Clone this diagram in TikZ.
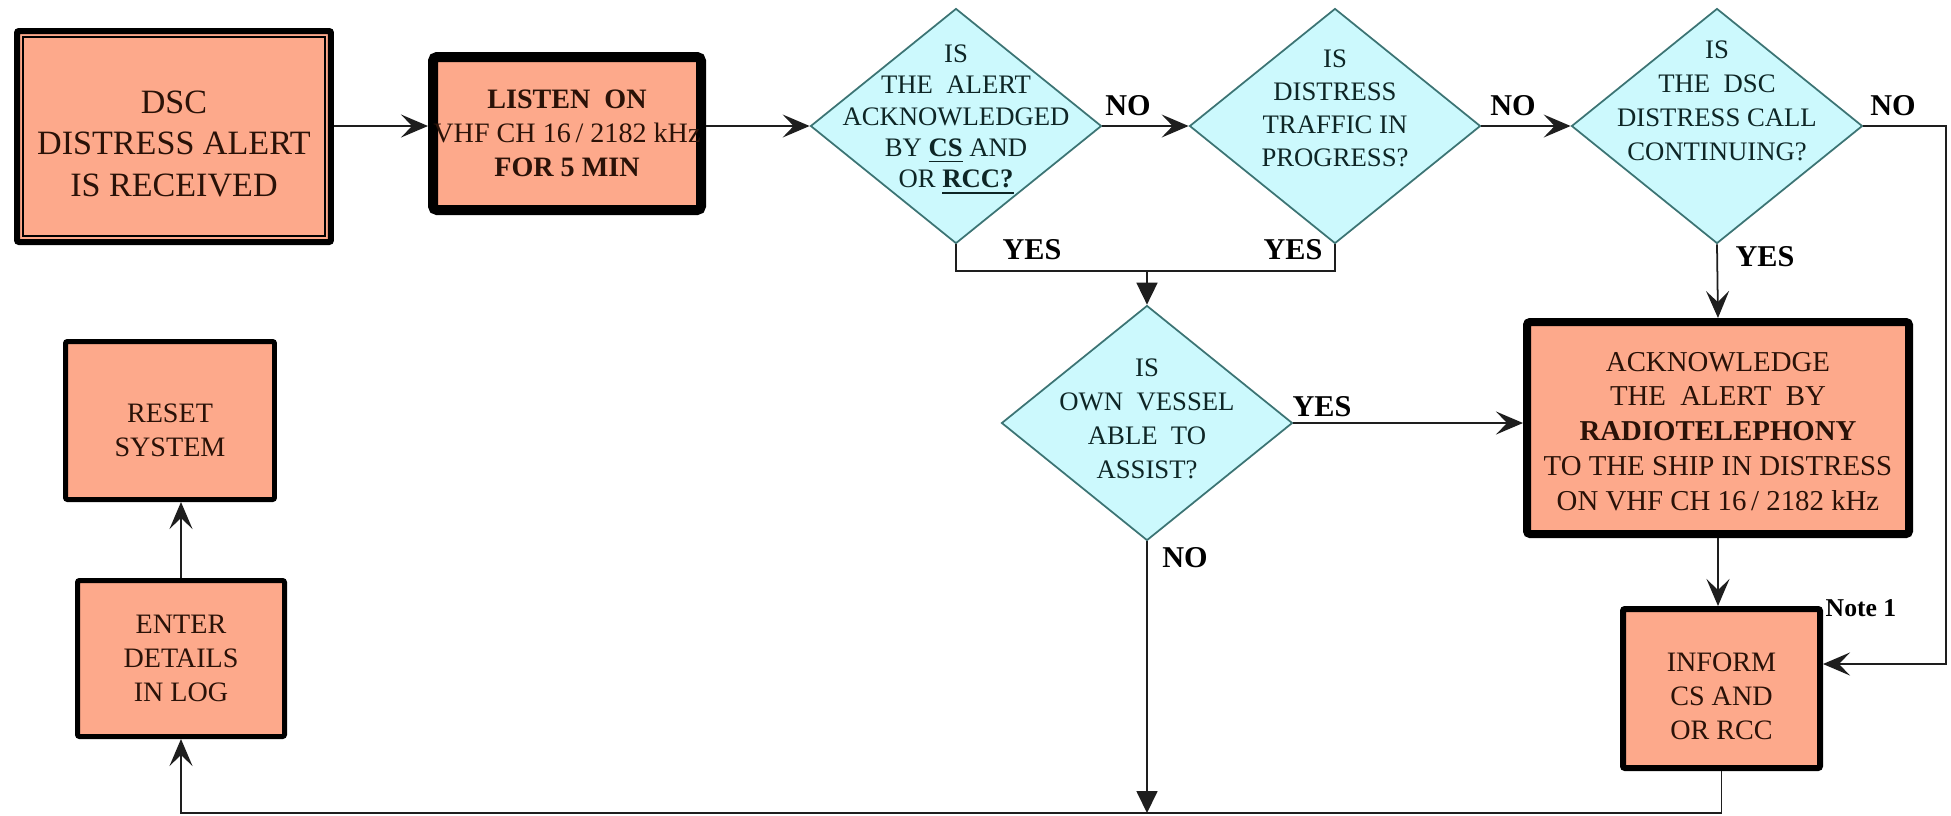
\documentclass[tikz,border=0pt]{standalone}
\usepackage{fontspec}
\setmainfont{Liberation Serif}
\usetikzlibrary{shapes.geometric, arrows.meta}
\definecolor{salmon}{HTML}{FDA98B}
\definecolor{cyanfill}{HTML}{CCF9FD}
\definecolor{dborder}{HTML}{3C7474}
\definecolor{boxtext}{HTML}{2A1208}
\definecolor{dtext}{HTML}{0E2626}
\definecolor{linec}{HTML}{1E1E1E}
\newcommand\fsz[2]{\fontsize{#1}{#2}\selectfont}
\newcommand\dlab[2]{\makebox[0pt]{\raisebox{#1}[0pt][0pt]{\begin{tabular}{@{}c@{}}#2\end{tabular}}}}
\begin{document}
\begin{tikzpicture}[x=0.1mm,y=-0.1mm,
  box/.style={draw=black, fill=salmon, rounded corners=0.2mm, inner sep=0pt, align=center, text=boxtext, font=\fsz{8}{9.7}},
  dia/.style={diamond, draw=dborder, fill=cyanfill, line width=0.5pt, inner sep=0pt, minimum width=29.1mm, minimum height=23.5mm, text=dtext, font=\fsz{7.6}{9.4}},
  lbl/.style={font=\bfseries\fsz{8.6}{10}, inner sep=0pt},
  conn/.style={draw=linec, line width=0.5pt},
  arr/.style={conn, -{Stealth[length=2.7mm,width=2.3mm,inset=1.1mm]}},
  tri/.style={conn, -{Triangle[length=2.2mm,width=2.1mm]}}]
\useasboundingbox (0,0) rectangle (1951,815);
\fill[white] (0,0) rectangle (1951,815);

% boxes
\node[box, line width=0.6mm, minimum width=31.4mm, minimum height=21.1mm, font=\fsz{9.7}{11.7}] (dsc) at (174,136.5) {\dlab{-5.4pt}{DSC\\DISTRESS ALERT\\IS RECEIVED}};
\draw[line width=0.15mm] ([shift={(9,9)}]dsc.north west) rectangle ([shift={(-9,-9)}]dsc.south east);
\node[box, line width=1mm, rounded corners=0.4mm, minimum width=26.8mm, minimum height=15.3mm] (listen) at (567,133.5) {\textbf{LISTEN\ \ ON}\\VHF CH 16\,/ 2182 kHz\\\textbf{FOR 5 MIN}};
\node[box, line width=0.8mm, rounded corners=0.3mm, minimum width=38.2mm, minimum height=21.2mm, font=\fsz{8.2}{9.9}] (ack) at (1718,428) {\dlab{-3.6pt}{ACKNOWLEDGE\\THE\ \ ALERT\ \ BY\\\textbf{RADIOTELEPHONY}\\TO THE SHIP IN DISTRESS\\ON VHF CH 16\,/ 2182 kHz}};
\node[box, line width=0.6mm, minimum width=19.7mm, minimum height=15.9mm] (inform) at (1721.5,688.5) {\dlab{-4.8pt}{INFORM\\CS AND\\OR RCC}};
\node[box, line width=0.5mm, minimum width=20.9mm, minimum height=15.8mm] (reset) at (170,420.5) {\dlab{-5.5pt}{RESET\\SYSTEM}};
\node[box, line width=0.5mm, minimum width=20.7mm, minimum height=15.6mm] (enter) at (181,658.5) {ENTER\\DETAILS\\IN LOG};

% decisions
\node[dia, font=\fsz{7.6}{8.9}] (d1) at (956,126) {\dlab{0pt}{IS\\THE\ \ ALERT\\ACKNOWLEDGED\\BY \underline{\textbf{CS}} AND\\OR \underline{\textbf{RCC?}}}};
\node[dia] (d2) at (1335,126) {\dlab{2.4pt}{IS\\DISTRESS\\TRAFFIC IN\\PROGRESS?}};
\node[dia, font=\fsz{7.6}{9.7}] (d4) at (1717,126) {\dlab{4.6pt}{IS\\THE\ \ DSC\\DISTRESS CALL\\CONTINUING?}};
\node[dia, font=\fsz{7.6}{9.7}] (d3) at (1147,423) {\dlab{-1.3pt}{IS\\OWN\ \ VESSEL\\ABLE\ \ TO\\ASSIST?}};

% labels
\node[lbl] (no1) at (1128,106) {NO};
\node[lbl] (no2) at (1513,106) {NO};
\node[lbl] (no3) at (1893,106) {NO};
\node[lbl] (yes1) at (1032,250) {YES};
\node[lbl] (yes2) at (1293,250) {YES};
\node[lbl] (yes3) at (1765,257) {YES};
\node[lbl] (yes4) at (1322,407) {YES};
\node[lbl] (no4) at (1185,558) {NO};
\node[lbl, font=\bfseries\fsz{7.3}{9}] (note) at (1861,608) {Note 1};

% connectors
\coordinate (rc) at (1946,664);
\coordinate (yj) at (1147,271);
\coordinate (bl) at (181,813);
\draw[arr] (dsc.east |- d1.west) -- (listen.west |- d1.west);
\draw[arr] (listen.east |- d1.west) -- (d1.west);
\draw[arr] (d1.east) -- (d2.west);
\draw[arr] (d2.east) -- (d4.west);
\draw[arr] (d4.east) -- (d4.east -| rc) -- (rc) -- (inform.east |- rc);
\draw[conn] (d1.south) -- (d1.south |- yj) -- (d2.south |- yj) -- (d2.south);
\draw[tri] (yj) -- (d3.north);
\draw[arr] (d3.east) -- (ack.west |- d3.east);
\draw[arr] (d4.south) -- (ack.north);
\draw[arr] (ack.south) -- (ack.south |- inform.north);
\draw[arr] (inform.south) -- (inform.south |- bl) -- (bl) -- (enter.south);
\draw[tri] (d3.south) -- (d3.south |- bl);
\draw[arr] (enter.north) -- (enter.north |- reset.south);
\end{tikzpicture}
\end{document}
